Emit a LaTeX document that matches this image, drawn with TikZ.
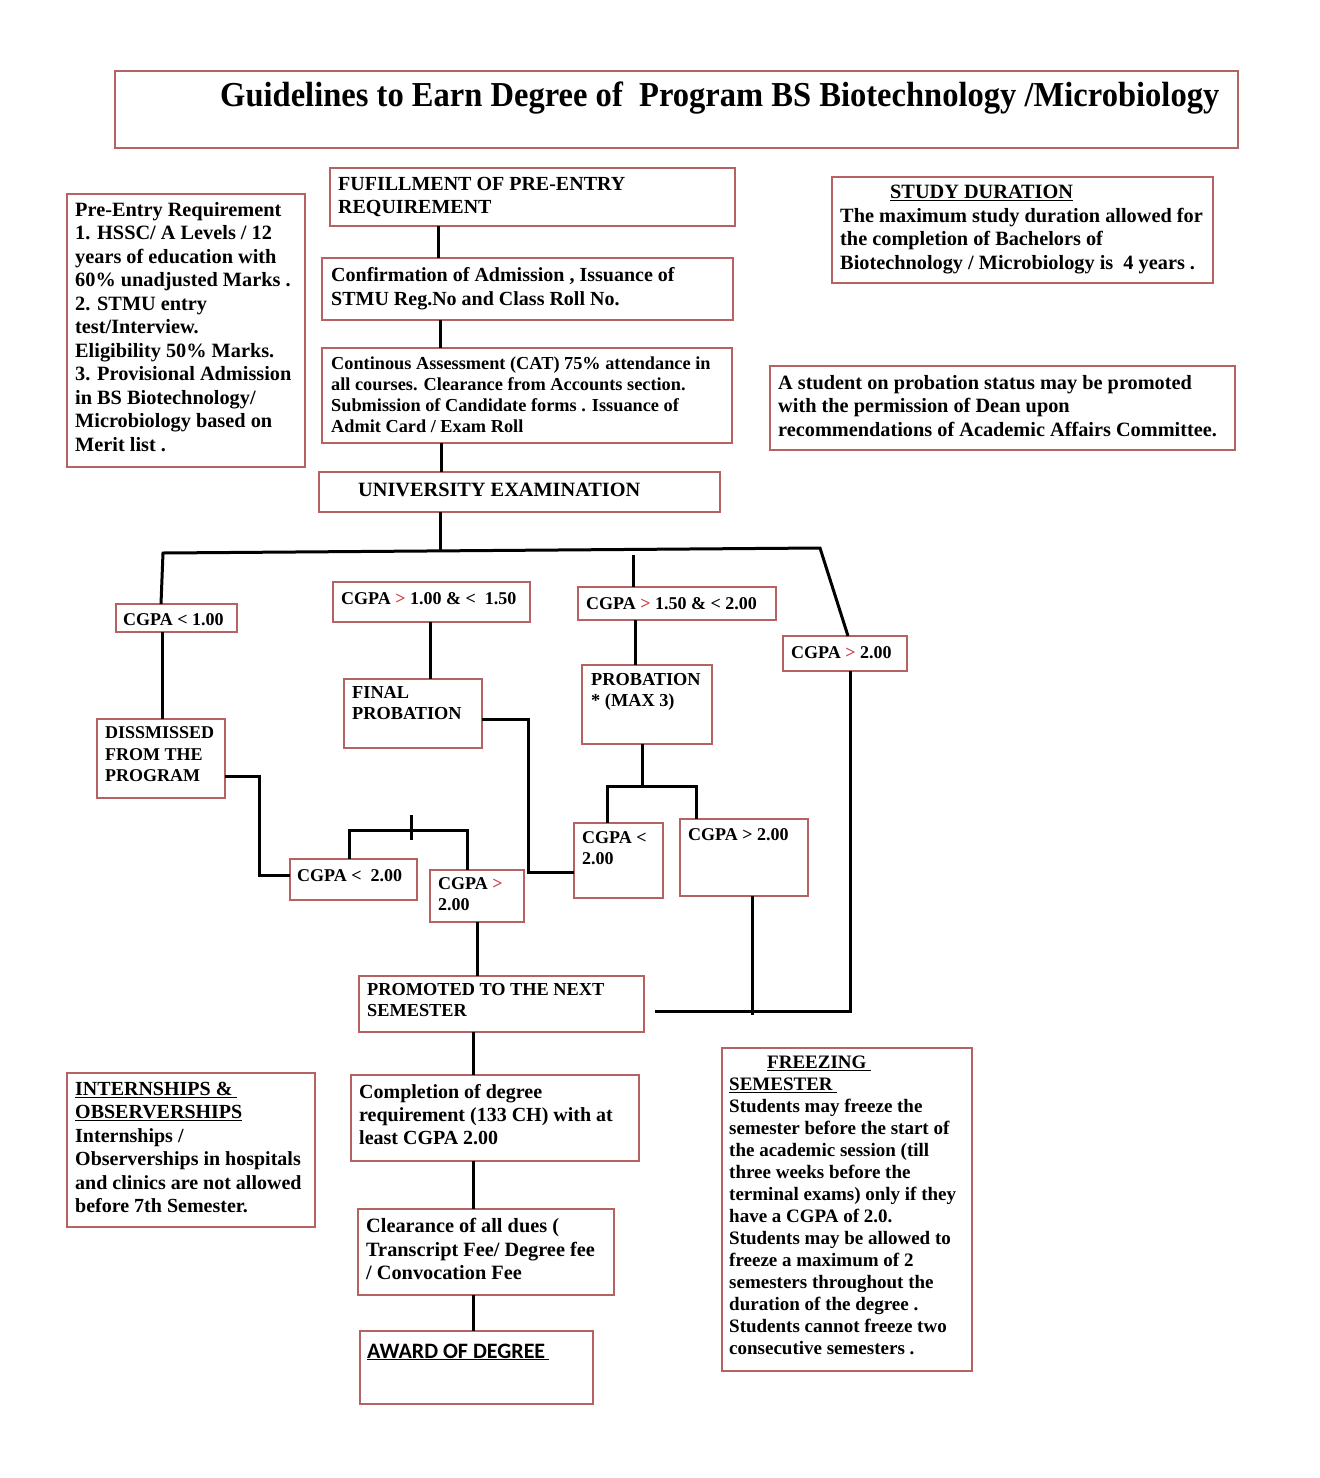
\documentclass[tikz,border=0pt]{standalone}
\usepackage{fontspec}
\setmainfont{Liberation Serif}
\newfontfamily\titlefont{Liberation Serif}[FakeStretch=0.93]
\newfontfamily\awardfont{Carlito}
\usetikzlibrary{calc}
\definecolor{boxred}{RGB}{182,98,98}
\definecolor{gtred}{RGB}{205,60,60}
\newcommand{\gtr}{\textcolor{gtred}{>}}
\newcommand{\bx}[5]{\node[box, minimum width={#4-#2}, minimum height={#5-#3}] (#1) at (#2,#3) {};}
\tikzset{
  box/.style={draw=boxred, line width=2pt, anchor=north west, inner sep=0pt, outer sep=0pt},
  conn/.style={draw=black, line width=3pt},
  txt/.style={anchor=north west, inner sep=0pt, align=left, execute at begin node={\rule{0pt}{0.75em}}},
  t20/.style={txt, font=\fontsize{20.3}{23.5}\selectfont\bfseries, yshift=7pt},
  t19/.style={txt, font=\fontsize{19}{22}\selectfont\bfseries, yshift=6.6pt},
  t18/.style={txt, font=\fontsize{18.3}{21}\selectfont\bfseries, yshift=6.4pt},
  t17/.style={txt, font=\fontsize{18}{21}\selectfont\bfseries, yshift=6.2pt},
}
\begin{document}
\begin{tikzpicture}[x=1pt,y=-1pt]
\useasboundingbox (0,0) rectangle (1320,1478);
% boxes
\bx{title}{115}{71}{1238}{148}
\bx{pre}{67}{194}{305}{467}
\bx{fulfil}{330}{168}{735}{226}
\bx{conf}{322}{258}{733}{320}
\bx{cat}{322}{348}{732}{443}
\bx{univ}{319}{472}{720}{512}
\bx{study}{832}{177}{1213}{283}
\bx{probn}{770}{366}{1235}{450}
\bx{g1}{116}{604}{237}{632}
\bx{g2}{333}{582}{530}{622}
\bx{g3}{578}{587}{776}{620}
\bx{g4}{783}{636}{907}{671}
\bx{dis}{97}{719}{225}{798}
\bx{fin}{344}{679}{482}{748}
\bx{prob}{582}{665}{712}{744}
\bx{r1}{574}{823}{663}{898}
\bx{r2}{680}{819}{808}{896}
\bx{s1}{290}{859}{417}{900}
\bx{s2}{430}{870}{524}{922}
\bx{promo}{359}{976}{644}{1032}
\bx{comp}{351}{1075}{639}{1161}
\bx{clear}{358}{1209}{614}{1295}
\bx{award}{360}{1331}{593}{1404}
\bx{intern}{67}{1073}{315}{1227}
\bx{freeze}{722}{1048}{972}{1371}
% texts
\node[anchor=base west, inner sep=0pt] (title-t) at (220,106) {\fontsize{35}{40}\titlefont\bfseries Guidelines to Earn Degree of\ \ Program BS Biotechnology /Microbiology};
\node[t20] (pre-t) at (75,209) {Pre-Entry Requirement\\ 1. HSSC/ A Levels / 12\\ years of education with\\ 60\% unadjusted Marks .\\ 2. STMU entry\\ test/Interview.\\ Eligibility 50\% Marks.\\ 3. Provisional Admission\\ in BS Biotechnology/\\ Microbiology based on\\ Merit list .};
\node[t20, font=\fontsize{20}{23}\selectfont\bfseries] (fulfil-t) at (338,184) {FUFILLMENT OF PRE-ENTRY\\ REQUIREMENT};
\node[t20, font=\fontsize{20}{24}\selectfont\bfseries] (conf-t) at (331,274) {Confirmation of Admission , Issuance of\\ STMU Reg.No and Class Roll No.};
\node[t18] (cat-t) at (331,363) {Continous Assessment (CAT) 75\% attendance in\\ all courses. Clearance from Accounts section.\\ Submission of Candidate forms . Issuance of\\ Admit Card / Exam Roll};
\node[t20] (univ-t) at (358,488) {UNIVERSITY EXAMINATION};
\node[t20] (study-t) at (840,192) {\hspace*{50pt}\underline{STUDY DURATION}\\ The maximum study duration allowed for\\ the completion of Bachelors of\\ Biotechnology / Microbiology is\ \ 4 years .};
\node[t20] (probn-t) at (778,382) {A student on probation status may be promoted\\ with the permission of Dean upon\\ recommendations of Academic Affairs Committee.};
\node[t17] (g1-t) at (123,618) {CGPA < 1.00};
\node[t17] (g2-t) at (341,597) {CGPA \gtr{} 1.00 \&\ <\ \ 1.50};
\node[t17] (g3-t) at (586,602) {CGPA \gtr{} 1.50 \&\ <\ 2.00};
\node[t17] (g4-t) at (791,651) {CGPA \gtr{} 2.00};
\node[t18, font=\fontsize{18}{21.5}\selectfont\bfseries] (dis-t) at (105,733) {DISSMISSED\\ FROM THE\\ PROGRAM};
\node[t18] (fin-t) at (352,693) {FINAL\\ PROBATION};
\node[t18] (prob-t) at (591,680) {PROBATION\\ * (MAX 3)};
\node[t17] (r1-t) at (582,838) {CGPA <\\ 2.00};
\node[t17] (r2-t) at (688,833) {CGPA > 2.00};
\node[t17] (s1-t) at (297,874) {CGPA <\ \ 2.00};
\node[t17] (s2-t) at (438,884) {CGPA \gtr\\ 2.00};
\node[t18] (promo-t) at (367,990) {PROMOTED TO THE NEXT\\ SEMESTER};
\node[t20, font=\fontsize{20}{23}\selectfont\bfseries] (comp-t) at (359,1091) {Completion of degree\\ requirement (133 CH) with at\\ least CGPA 2.00};
\node[t20] (clear-t) at (366,1225) {Clearance of all dues (\\ Transcript Fee/ Degree fee\\ / Convocation Fee};
\node[anchor=base west, inner sep=0pt] (award-t) at (367,1358) {\fontsize{22}{26}\awardfont\bfseries\underline{AWARD OF DEGREE\,}};
\node[t20, font=\fontsize{20}{23.4}\selectfont\bfseries] (intern-t) at (75,1089) {\underline{INTERNSHIPS \&\ }\\ \underline{OBSERVERSHIPS}\\ Internships /\\ Observerships in hospitals\\ and clinics are not allowed\\ before 7th Semester.};
\node[t19] (freeze-t) at (729,1062) {\hspace*{38pt}\underline{FREEZING\ }\\ \underline{SEMESTER\ }\\ Students may freeze the\\ semester before the start of\\ the academic session (till\\ three weeks before the\\ terminal exams) only if they\\ have a CGPA of 2.0.\\ Students may be allowed to\\ freeze a maximum of 2\\ semesters throughout the\\ duration of the degree .\\ Students cannot freeze two\\ consecutive semesters .};
% reference coordinates
\coordinate (xa) at (438,0);
\coordinate (xb) at (440,0);
\coordinate (xc) at (441,0);
\coordinate (j0) at (440,551);
\coordinate (j1) at (163,553);
\coordinate (j2) at (820,548);
\coordinate (x161) at (161,0);
\coordinate (x848) at (848,0);
\coordinate (b3) at (633,555);
\coordinate (x162) at (162,0);
\coordinate (d1) at (259,776);
\coordinate (d2) at (259,875);
\coordinate (x430) at (430,0);
\coordinate (f1) at (528,719);
\coordinate (f2) at (528,872);
\coordinate (x635) at (635,0);
\coordinate (p0) at (642,786);
\coordinate (p1) at (607,786);
\coordinate (p2) at (696,786);
\coordinate (pj2) at (752,1015);
\coordinate (q1) at (850,1011);
\coordinate (pj) at (655,1011);
\coordinate (st1) at (411,815);
\coordinate (st2) at (411,840);
\coordinate (sl) at (349,830);
\coordinate (sr) at (467,830);
\coordinate (x477) at (477,0);
\coordinate (x473) at (473,0);
% connectors
\draw[conn] (fulfil.south -| xa) -- (conf.north -| xa);
\draw[conn] (conf.south -| xb) -- (cat.north -| xb);
\draw[conn] (cat.south -| xc) -- (univ.north -| xc);
\draw[conn] (univ.south -| j0) -- (j0);
\draw[conn] (g1.north -| x161) -- (j1) -- (j2) -- (g4.north -| x848);
\draw[conn] (b3) -- (g3.north -| b3);
\draw[conn] (g1.south -| x162) -- (dis.north -| x162);
\draw[conn] (dis.east |- d1) -- (d1) -- (d2) -- (s1.west |- d2);
\draw[conn] (g2.south -| x430) -- (fin.north -| x430);
\draw[conn] (fin.east |- f1) -- (f1) -- (f2) -- (r1.west |- f2);
\draw[conn] (g3.south -| x635) -- (prob.north -| x635);
\draw[conn] (prob.south -| p0) -- (p0);
\draw[conn] (r1.north -| p1) -- (p1) -- (p2) -- (r2.north -| p2);
\draw[conn] (r2.south -| pj2) -- (pj2);
\draw[conn] (g4.south -| q1) -- (q1) -- (pj);
\draw[conn] (st1) -- (st2);
\draw[conn] (s1.north -| sl) -- (sl) -- (sr) -- (s2.north -| sr);
\draw[conn] (s2.south -| x477) -- (promo.north -| x477);
\draw[conn] (promo.south -| x473) -- (comp.north -| x473);
\draw[conn] (comp.south -| x473) -- (clear.north -| x473);
\draw[conn] (clear.south -| x473) -- (award.north -| x473);
\end{tikzpicture}
\end{document}
